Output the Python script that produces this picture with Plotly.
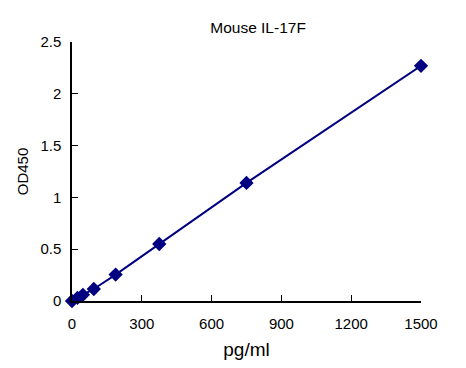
import plotly.graph_objects as go

conc = [0, 23.4, 46.9, 93.75, 187.5, 375, 750, 1500]
od = [0.0, 0.03, 0.06, 0.116, 0.255, 0.55, 1.14, 2.27]
x_ticks = [0, 300, 600, 900, 1200, 1500]
y_ticks = [0, 0.5, 1, 1.5, 2, 2.5]
y_tick_text = ["0", "0.5", "1", "1.5", "2", "2.5"]

fig = go.Figure()
fig.add_trace(go.Scatter(
    x=conc, y=od, mode="lines+markers",
    line=dict(color="#000080", width=2),
    marker=dict(symbol="diamond", size=11, color="#000080"),
    cliponaxis=False, showlegend=False,
))

fig.update_layout(
    width=458, height=360,
    margin=dict(l=64, r=45, t=34, b=67),
    paper_bgcolor="white", plot_bgcolor="white",
    font=dict(family="Liberation Sans, Arial", color="black", size=15),
    title=dict(text="Mouse IL-17F", x=0.546, xanchor="center", y=0.947, yanchor="middle",
               font=dict(size=15.5)),
    xaxis=dict(range=[0, 1500], tickvals=x_ticks, ticks="inside", ticklen=6,
               showline=True, linecolor="black", linewidth=1.5, tickcolor="black",
               showgrid=False, zeroline=False, ticklabelstandoff=8,
               title=dict(text="pg/ml", font=dict(size=19), standoff=12)),
    yaxis=dict(range=[0, 2.5], tickvals=y_ticks, ticktext=y_tick_text, ticks="inside", ticklen=6,
               showline=True, linecolor="black", linewidth=1.5, tickcolor="black",
               showgrid=False, zeroline=False, ticklabelstandoff=6,
               title=dict(text="OD450", font=dict(size=15), standoff=8)),
)

fig.write_html("out.html")
